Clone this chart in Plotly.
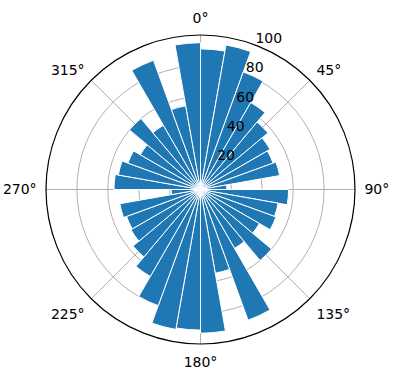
import plotly.graph_objects as go

theta_deg = [5, 15, 25, 35, 45, 55, 65, 75, 85,
             95, 105, 115, 125, 135, 145, 155, 165, 175,
             185, 195, 205, 215, 225, 235, 245, 255, 265,
             275, 285, 295, 305, 315, 325, 335, 345, 355]
radii = [91, 95, 81, 65, 57, 52, 50, 52, 17,
         57, 51, 52, 44, 60, 44, 90, 55, 93,
         91, 92, 80, 65, 57, 52, 51, 53, 19,
         56, 54, 50, 45, 60, 48, 89, 55, 95]
bar_width = 10
angle_ticks = [0, 45, 90, 135, 180, 225, 270, 315]
angle_labels = ["0°", "45°", "90°", "135°", "180°", "225°", "270°", "315°"]
radial_ticks = [20, 40, 60, 80, 100]
radial_labels = ["20", "40", "60", "80", "100"]

fig = go.Figure()
fig.add_trace(go.Barpolar(
    r=radii,
    theta=theta_deg,
    width=[bar_width] * len(theta_deg),
    marker=dict(color="#1f77b4", line=dict(color="white", width=1)),
    opacity=1,
))

fig.update_layout(
    width=396, height=380,
    margin=dict(l=46, r=41, t=35, b=36),
    paper_bgcolor="white",
    showlegend=False,
    font=dict(family="DejaVu Sans", size=14, color="black"),
    polar=dict(
        bgcolor="white",
        bargap=0,
        angularaxis=dict(
            direction="clockwise",
            rotation=90,
            tickmode="array",
            tickvals=angle_ticks,
            ticktext=angle_labels,
            showgrid=True,
            gridcolor="#b0b0b0",
            gridwidth=1,
            showline=True,
            linecolor="black",
            linewidth=1.2,
            ticks="outside",
            ticklen=6,
            tickcolor="rgba(0,0,0,0)",
            layer="above traces",
        ),
        radialaxis=dict(
            range=[0, 100],
            tickmode="array",
            tickvals=radial_ticks,
            ticktext=[t + "<br> " for t in radial_labels],
            angle=72,
            tickangle=72,
            showline=False,
            showgrid=True,
            gridcolor="#b0b0b0",
            gridwidth=1,
            ticks="",
            layer="above traces",
        ),
    ),
)

fig.write_html("out.html")
